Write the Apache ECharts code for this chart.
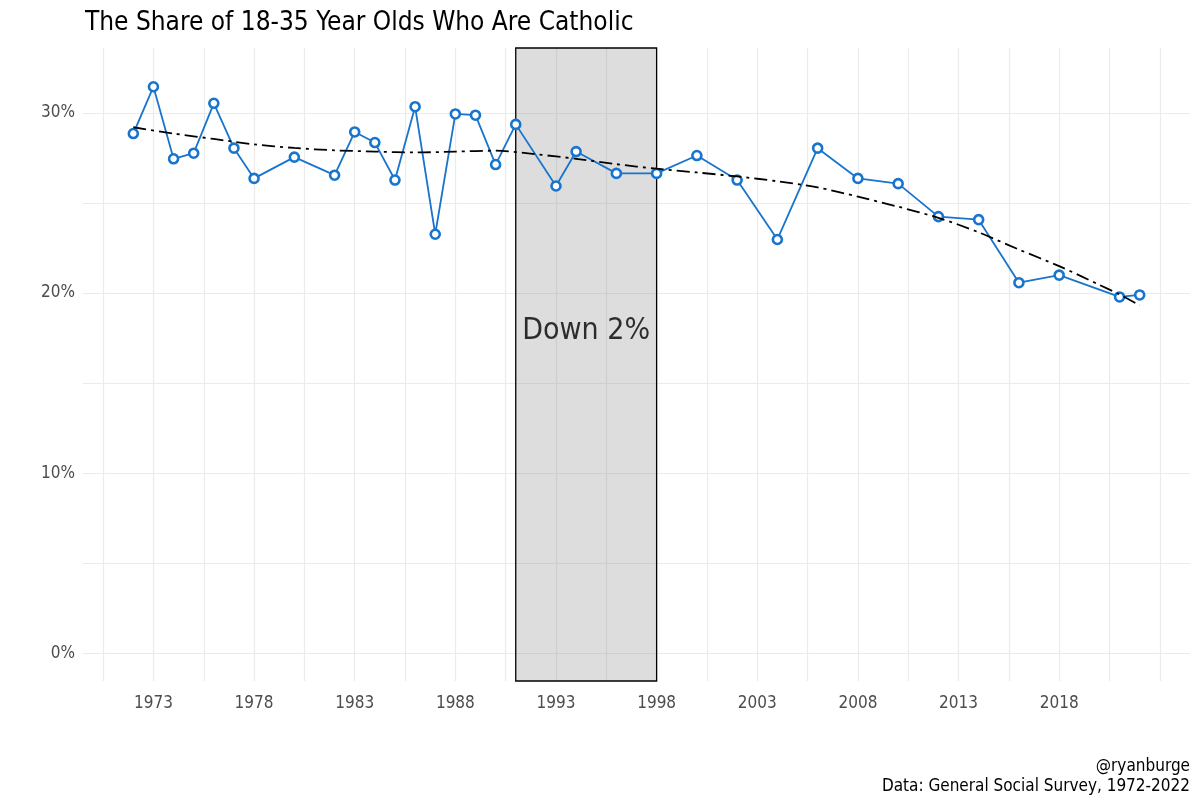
<!DOCTYPE html>
<html><head><meta charset="utf-8">
<script src="https://cdn.jsdelivr.net/npm/echarts@6/dist/echarts.min.js"></script>
<style>html,body{margin:0;padding:0;background:#fff}#c{width:1200px;height:800px}</style>
</head><body><div id="c"></div>
<script>
const years = [1972,1973,1974,1975,1976,1977,1978,1980,1982,1983,1984,1985,1986,1987,1988,1989,1990,1991,1993,1994,1996,1998,2000,2002,2004,2006,2008,2010,2012,2014,2016,2018,2021,2022];
const catholicShare = [28.85,31.45,27.45,27.76,30.53,28.04,26.36,27.54,26.54,28.94,28.35,26.27,30.34,23.26,29.94,29.87,27.13,29.36,25.94,27.85,26.64,26.64,27.63,26.27,22.97,28.04,26.36,26.07,24.24,24.07,20.57,20.99,19.78,19.89];
const trendYears = [1972,1974,1976,1978,1980,1982,1984,1986,1988,1990,1992,1994,1996,1998,2000,2002,2004,2006,2008,2010,2012,2014,2016,2018,2020,2021,2022];
const trendValues = [29.2,28.85,28.55,28.25,28.05,27.92,27.85,27.8,27.85,27.9,27.7,27.45,27.15,26.9,26.69,26.47,26.2,25.86,25.35,24.79,24.17,23.37,22.41,21.49,20.45,19.92,19.31];
const xTickLabels = [1973,1978,1983,1988,1993,1998,2003,2008,2013,2018];
const xGridBreaks = [1970.5,1973,1975.5,1978,1980.5,1983,1985.5,1988,1990.5,1993,1995.5,1998,2000.5,2003,2005.5,2008,2010.5,2013,2015.5,2018,2020.5,2023];
const yTickLabels = [0,10,20,30];
const yGridBreaks = [0,5,10,15,20,25,30];
const shadedPeriod = [1991,1998];
const annotationPoint = [1994.5,17.9];
const annotationText = 'Down 2%';
const titleText = 'The Share of 18-35 Year Olds Who Are Catholic';
const captionLines = ['@ryanburge','Data: General Social Survey, 1972-2022'];

const FONT = "'Liberation Sans Narrow','DejaVu Sans Condensed',sans-serif";
const chart = echarts.init(document.getElementById('c'), null, {renderer:'canvas'});
chart.setOption({
  backgroundColor:'#fff',
  animation:false,
  title:{text:titleText, left:80, top:5, textStyle:{fontFamily:FONT, fontSize:26, fontWeight:'normal', color:'#000'}},
  graphic:[
    {type:'text', right:10, top:758, style:{text:captionLines[0], font:"17px "+FONT, fill:'#000', textAlign:'right'}},
    {type:'text', right:10, top:778, style:{text:captionLines[1], font:"17px "+FONT, fill:'#000', textAlign:'right'}}
  ],
  grid:{left:83, right:10, top:48, bottom:119, containLabel:false},
  xAxis:{type:'value', min:1969.5, max:2024.5,
    axisLine:{show:false}, axisTick:{show:false, customValues:xGridBreaks},
    axisLabel:{customValues:xTickLabels, formatter:v=>String(v), fontFamily:FONT, fontSize:17, color:'#4d4d4d', margin:14},
    splitLine:{show:true, lineStyle:{color:'#ebebeb', width:1.2}}},
  yAxis:{type:'value', min:-1.54, max:33.6,
    axisLine:{show:false}, axisTick:{show:false, customValues:yGridBreaks},
    axisLabel:{customValues:yTickLabels, formatter:v=>v+'%', fontFamily:FONT, fontSize:17, color:'#4d4d4d', margin:8},
    splitLine:{show:true, lineStyle:{color:'#ebebeb', width:1.2}}},
  series:[
    {type:'line', data:[], z:1, silent:true,
     markArea:{silent:true, itemStyle:{color:'rgba(150,150,150,0.32)', borderColor:'#000', borderWidth:1.3},
       data:[[{xAxis:shadedPeriod[0]},{xAxis:shadedPeriod[1]}]]}},
    {type:'line', data:years.map((y,i)=>[y,catholicShare[i]]), z:3,
     lineStyle:{color:'#1874CD', width:1.8}, symbol:'circle', symbolSize:9,
     itemStyle:{color:'#fff', borderColor:'#1874CD', borderWidth:2.6}},
    {type:'line', data:trendYears.map((y,i)=>[y,trendValues[i]]), z:4, smooth:0.3, symbol:'none',
     lineStyle:{color:'#000', width:1.8, type:[13,5,3,5]}},
    {type:'scatter', data:[annotationPoint], symbolSize:0, z:5,
     label:{show:true, position:'inside', formatter:annotationText, fontFamily:FONT, fontSize:30, color:'#000'}}
  ]
});
</script></body></html>
